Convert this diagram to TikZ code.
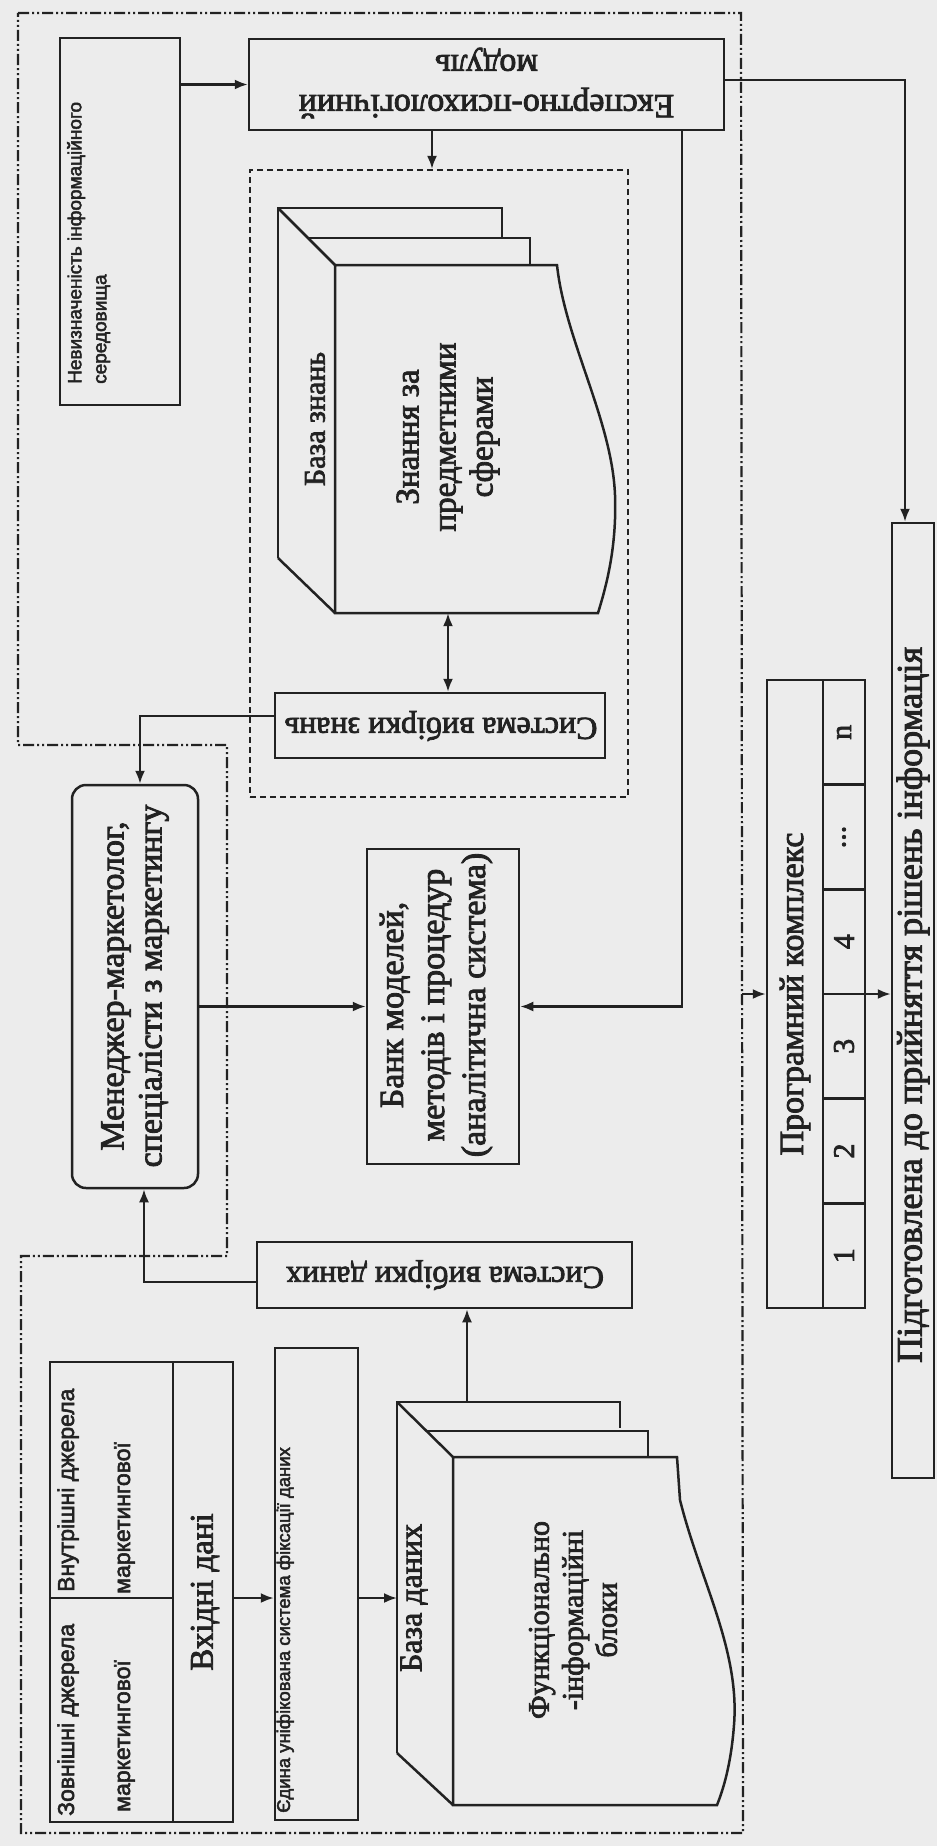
\documentclass[tikz,border=0pt]{standalone}
\usepackage{fontspec}
\setmainfont{Liberation Serif}[FakeBold=2.5]
\newfontfamily\sansf{Liberation Sans}[FakeBold=2.5]
\usetikzlibrary{arrows.meta,calc}
\definecolor{bg}{RGB}{236,236,236}
\definecolor{ink}{RGB}{34,34,34}
\begin{document}
\begin{tikzpicture}[x=1pt,y=-1pt,
  box/.style={draw=ink,line width=2.5pt,inner sep=0pt},
  arr/.style={draw=ink,line width=2.2pt,-{Latex[length=13pt,width=10pt]}},
  darr/.style={draw=ink,line width=2.2pt,{Latex[length=13pt,width=10pt]}-{Latex[length=13pt,width=10pt]}},
  shp/.style={draw=ink,line width=2.5pt,line join=miter},
  txt/.style={inner sep=0pt,text=ink},
  vt/.style={txt,rotate=90,align=center},
  ut/.style={txt,rotate=180,align=center},
  dashdot/.style={draw=ink,line width=2.2pt,dash pattern=on 11pt off 3pt on 2pt off 3pt on 2pt off 3pt},
  dashbox/.style={draw=ink,line width=2.2pt,dash pattern=on 6pt off 4pt,inner sep=0pt}
  ]
\fill[bg] (0,0) rectangle (937,1846);
\useasboundingbox (0,0) rectangle (937,1846);

% outer dash-dot boundary
\draw[dashdot] (18,13) -- (741,13) -- (743,1833) -- (21,1833) -- (21,1256) -- (227,1256) -- (227,745) -- (18,745) -- cycle;

% inner dashed area
\node[dashbox,minimum width=378,minimum height=627] (kdash) at (439,483.5) {};

% boxes
\node[box,minimum width=120,minimum height=367] (nev) at (120,221.5) {};
\node[box,minimum width=475,minimum height=91] (exp) at (486.5,84.5) {};
\node[box,minimum width=330,minimum height=65] (vz) at (440,725.5) {};
\node[box,rounded corners=14pt,minimum width=126,minimum height=403] (mgr) at (135,986.5) {};
\node[box,minimum width=152,minimum height=315] (bank) at (443,1006.5) {};
\node[box,minimum width=375,minimum height=66] (vd) at (444.5,1275) {};
\node[box,minimum width=123,minimum height=236] (int) at (111.5,1480) {};
\node[box,minimum width=123,minimum height=224] (ext) at (111.5,1710) {};
\node[box,minimum width=60,minimum height=460] (inp) at (203,1592) {};
\node[box,minimum width=83,minimum height=472] (uni) at (316.5,1584) {};
\node[box,minimum width=98,minimum height=628] (prog) at (816,994) {};
\node[box,minimum width=42,minimum height=104.67] (cn) at (844,732.3) {};
\node[box,minimum width=42,minimum height=104.67] (cd) at (844,837) {};
\node[box,minimum width=42,minimum height=104.67] (c4) at (844,941.7) {};
\node[box,minimum width=42,minimum height=104.67] (c3) at (844,1046.3) {};
\node[box,minimum width=42,minimum height=104.67] (c2) at (844,1151) {};
\node[box,minimum width=42,minimum height=104.67] (c1) at (844,1255.7) {};
\node[box,minimum width=42,minimum height=955] (prep) at (913,1000.5) {};

% knowledge base (stacked sheets)
\draw[shp] (278,558) -- (278,208) -- (502,208) -- (502,237);
\draw[shp] (308,238) -- (530,238) -- (530,265);
\draw[shp] (278,208) -- (335,265);
\draw[shp] (278,558) -- (335,613);
\draw[shp] (335,265) -- (557,265) .. controls (565,340) and (612,420) .. (615,495)
   .. controls (617,550) and (605,590) .. (598,613) -- (335,613) -- cycle;
\node[txt,minimum width=263,minimum height=348] (kbf) at (466.5,439) {};

% database (stacked sheets)
\draw[shp] (397,1753) -- (397,1402) -- (620,1402) -- (620,1428);
\draw[shp] (426,1431) -- (648,1431) -- (648,1457);
\draw[shp] (397,1402) -- (453,1457);
\draw[shp] (397,1753) -- (453,1805);
\draw[shp] (453,1457) -- (677,1457) -- (680,1500) .. controls (700,1580) and (740,1650) .. (734,1725)
   .. controls (731,1765) and (723,1790) .. (717,1805) -- (453,1805) -- cycle;
\node[txt,minimum width=264,minimum height=348] (dbf) at (585,1631) {};
\coordinate (dbtop) at (467,1402);
\coordinate (dbleft) at (397,1598);
\coordinate (pin) at (742,994);

% texts
\node[txt,rotate=90,align=left,anchor=north west,font={\sansf\fontsize{19}{25}\selectfont}] (nevt) at (67,384)
  {Невизначеність інформаційного\\середовища};
\node[ut,font=\fontsize{34}{40}\selectfont] (expt) at (486.5,83) {Експертно-психологічний\\модуль};
\node[vt,font=\fontsize{30}{32}\selectfont] (kbt1) at (315,419) {База знань};
\node[vt,font=\fontsize{33}{37}\selectfont] (kbt2) at (448,437) {Знання за\\предметними\\сферами};
\node[ut,font=\fontsize{32}{38}\selectfont] (vzt) at (441,726) {Система вибірки знань};
\node[vt,font=\fontsize{34}{38}\selectfont] (mgrt) at (135,986) {Менеджер-маркетолог,\\спеціалісти з маркетингу};
\node[vt,font=\fontsize{34}{41}\selectfont] (bankt) at (436,1005) {Банк моделей,\\методів і процедур\\(аналітична система)};
\node[ut,font=\fontsize{32}{38}\selectfont] (vdt) at (445,1275) {Система вибірки даних};
\node[txt,rotate=90,anchor=base west,font={\sansf\fontsize{23}{27}\selectfont}] (intt1) at (74,1592) {Внутрішні джерела};
\node[txt,rotate=90,anchor=base west,font={\sansf\fontsize{23}{27}\selectfont}] (intt2) at (130,1594) {маркетингової};
\node[txt,rotate=90,anchor=base west,font={\sansf\fontsize{23}{27}\selectfont}] (extt1) at (74,1816) {Зовнішні джерела};
\node[txt,rotate=90,anchor=base west,font={\sansf\fontsize{23}{27}\selectfont}] (extt2) at (130,1812) {маркетингової};
\node[vt,font=\fontsize{33}{38}\selectfont] (inpt) at (205,1592) {Вхідні дані};
\node[txt,rotate=90,anchor=base west,font={\sansf\fontsize{18.5}{22}\selectfont}] (unit) at (290,1813) {Єдина уніфікована система фіксації даних};
\node[vt,font=\fontsize{32}{38}\selectfont] (dbt1) at (414,1598) {База даних};
\node[vt,font=\fontsize{30}{34}\selectfont] (dbt2) at (573,1620) {Функціонально\\-інформаційні\\блоки};
\node[vt,font=\fontsize{34}{40}\selectfont] (progt) at (795,994) {Програмний комплекс};
\node[vt,font=\fontsize{30}{36}\selectfont] (tn) at (cn.center) {n};
\node[vt,font=\fontsize{30}{36}\selectfont] (td) at (cd.center) {...};
\node[vt,font=\fontsize{30}{36}\selectfont] (t4) at (c4.center) {4};
\node[vt,font=\fontsize{30}{36}\selectfont] (t3) at (c3.center) {3};
\node[vt,font=\fontsize{30}{36}\selectfont] (t2) at (c2.center) {2};
\node[vt,font=\fontsize{30}{36}\selectfont] (t1) at (c1.center) {1};
\node[vt,font=\fontsize{36}{42}\selectfont] (prept) at (913,1005) {Підготовлена до прийняття рішень інформація};

% connectors
\draw[arr] (nev.east |- exp.west) -- (exp.west);
\draw[arr] ([xshift=-54.5pt]exp.south) -- ([xshift=-54.5pt]exp.south |- kdash.north);
\draw[arr] ([xshift=195.5pt]exp.south) |- (bank.east);
\draw[arr] ([yshift=4.5pt]exp.east) -| ([xshift=-8pt]prep.north);
\draw[darr] ([xshift=8pt]vz.north) -- ([xshift=8pt]vz.north |- kbf.south);
\draw[arr] ([yshift=9.5pt]vz.west) -| ([xshift=5pt]mgr.north);
\draw[arr] (mgr.east |- bank.west) -- (bank.west);
\draw[arr] ([yshift=-7pt]vd.west) -| ([xshift=9pt]mgr.south);
\draw[arr] (dbtop) -- (dbtop |- vd.south);
\draw[arr] ([yshift=-6pt]inp.east) -- ([yshift=-6pt]inp.east -| uni.west);
\draw[arr] ([yshift=-14pt]uni.east) -- ([yshift=-14pt]uni.east -| dbleft);
\draw[arr] (pin) -- (prog.west);
\draw[arr] (prog.east) -- (prog.east -| prep.west);
\end{tikzpicture}
\end{document}
